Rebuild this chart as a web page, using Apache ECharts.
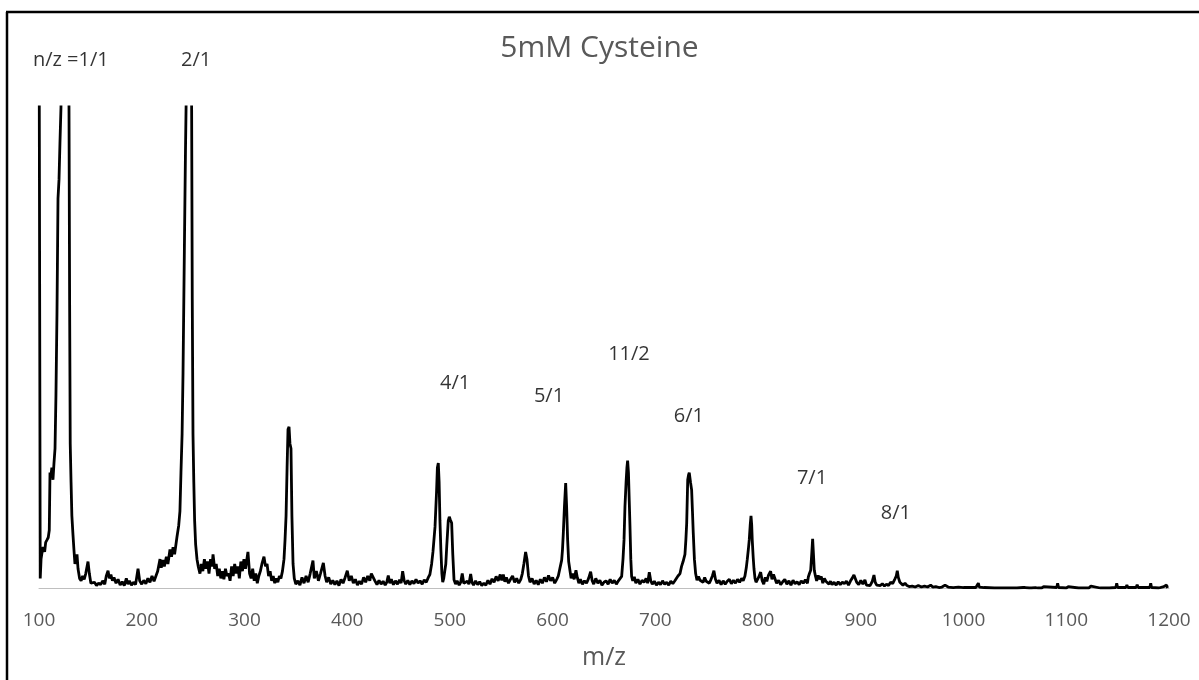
<!DOCTYPE html>
<html>
<head>
<meta charset="utf-8">
<script src="https://cdn.jsdelivr.net/npm/echarts@6/dist/echarts.min.js"></script>
<style>
html,body{margin:0;padding:0;background:#fff;}
#chart{width:1199px;height:680px;}
</style>
</head>
<body>
<div id="chart"></div>
<script>
// ---- Data ----
const chartTitle = '5mM Cysteine';
const xAxisName = 'm/z';
const xMin = 100, xMax = 1200, xStep = 100;
const yMin = 0, yMax = 100; // relative intensity; peaks above 100 are cut by the plot top

// annotation labels: text, m/z position, intensity position
const annotationNames = ['n/z =1/1', '2/1', '4/1', '5/1', '11/2', '6/1', '7/1', '8/1'];
const annotationMz    = [131, 253, 505, 596.5, 674.3, 732.7, 852.5, 934.2];
const annotationInt   = [109.8, 109.8, 42.6, 39.9, 48.6, 35.8, 22.9, 15.6];

// spectrum: [m/z, intensity]
const spectrumPeak1 = [
[100,130],[100.8,130],[101.2,2],[102,6],[102.9,7.3],[104,8.5],[105.5,7.5],[106.5,9.5],[107.8,10],[109,10.5],
[110,12],[110.7,24],[111.5,23],[112.5,25],[113.6,22.5],[114.6,26],[115.6,29],[116.5,40],[117.5,57],[118.5,81],
[119.5,85],[120.4,92.5],[121.4,100],[123,150],[125.5,200],[128,150],[129.2,100],[129.8,60],[130.4,30],[131.2,22],
[132,15],[133.1,11],[134,8],[135,5],[136,6],[137,7],[138,4],[139.5,2],[141,1.5],[142.5,2.5],
[144,1.8],[145.5,3],[147.7,5.5],[149,3],[150.5,1],[152,0.6],[154,1.2],[156,0.5],[158,1],[160,0.7],
[162,1.5],[164,0.8],[165.5,2.5],[167.2,3.6],[168.5,2],[170,2.8],[171.5,1.5],[173,2.2],[175,1],[177,1.8],
[179,0.6],[181,1.3],[183,0.5],[185,2],[186.5,0.8],[188,1.5],[190,0.6],[192,1.2],[194,0.7],[196.4,4],
[198,1.5],[200,0.8],[202,1.6],[204,0.9],[206,2],[208,1.2],[210,2.5],[212,1.4],[214,2.6]
];
const spectrumPeak2 = [
[215.5,3.5],[217.8,6],[219,4.2],[220.5,5.8],[222,4.5],[224,6.5],[225.5,5],[227.5,8],[229,6.5],[230.5,8.5],
[232,7],[234.3,10.6],[236,13],[237.2,16],[238.2,24],[239.3,32],[240.2,44.7],[241.5,70],[242.6,91],[243.5,105],
[246,160],[248.5,105],[249.2,60],[249.9,32],[250.7,22],[251.5,14],[252.5,9],[253.8,6],[255,4.5],[256.7,3],
[258,5],[259.5,3.5],[261,6],[262.5,4],[264,5.5],[265.5,3],[267,6],[268.5,4.5],[269.4,7],[271,4],
[272.5,5],[274,2.5],[275.5,4],[277,2],[278.5,3.5],[280,1.8],[281.5,4],[283,2.5],[284.5,3],[286,1.5],
[287.5,4.5],[289,2.5],[290.5,5],[292,3],[293.5,4.5],[295,2],[296.5,5.5],[298,3.5],[299.5,6],[301,4],
[303.4,7.5],[305,3],[306.5,2],[308,4],[309.5,1.5],[311,3],[312.5,1],[314,2.5],[315.5,3.5],[317,5],
[319,6.5],[320.5,4.5],[322,5],[323.5,2.5],[325,3.5],[326.5,1.5],[328,2.5],[329.5,1],[331,2],[332.5,1.2],
[334,2.5],[335.5,2],[337,3.5],[338.5,6],[339.5,10],[340.5,15],[341.5,25],[342.4,33],[343.4,33.5],[344.3,30],
[345.3,29],[346.2,15],[347.3,5],[348.5,2],[350,0.8],[352,1.5],[354,0.6],[356,2.2],[358,1],[360,2.5],
[362,1.2],[364,3],[366.7,5.7],[368,2],[370,3.5],[372,1.5],[374,3],[376.8,5.2],[378.5,2.5],[380,1.2],
[382,2.2],[384,0.8],[386,1.6],[388,0.7],[390,1.5],[392,0.5],[394,1.8],[396,1],[398,2.2],[400.1,3.6],
[402,1.5],[404,2.5],[406,1],[408,1.8],[410,0.6],[412,1.4],[414,0.8],[416,2.2],[418,1.2],[420,2.5],
[422,1.5],[423.5,3],[425.4,3.2],[427,1.5],[429,0.7],[431,1.6],[433,0.8],[435,1.4],[437,0.6],[438.5,1.2],
[440,2.6],[441.5,1],[443,1.8],[445,0.7],[447,1.5],[449,0.8],[451,1.7],[452.5,1],[454,3.5],[455.5,1.5],
[457,0.8],[459,1.6],[461,0.7],[463,1.5],[465,0.9],[467,1.8],[469,1],[471,1.5],[473,0.8],[475,1.7],
[477,1.2],[479,2.2]
];
const spectrumPeak4to6 = [
[480.5,2.8],[482.2,5],[483.5,7.5],[485.5,12.7],[487,20],[487.8,25],[488.7,26],[489.5,22],[490.3,14],[491.2,8],
[492.2,3],[493,1.2],[494,2],[495,3.5],[496,5],[497,9],[498.4,14],[499.4,14.8],[500.4,14.2],[501.7,13.5],
[502.8,7],[504,1.7],[505.5,0.8],[507,1.5],[509,0.6],[510.5,1.2],[512,3],[513.5,1],[515,0.6],[517,1.4],
[518.5,0.8],[520.2,2.9],[521.5,1.2],[523,0.6],[525,1.5],[527,0.7],[529,1.3],[531,0.5],[533,1],[535,0.6],
[537,1.6],[539,0.8],[541,1.9],[543,1.2],[545,2.4],[547,1.5],[549,2.8],[550.5,1.6],[552,2.8],[553.5,1.3],
[555,2.2],[557,1],[559,1.8],[561,2.5],[563,1.2],[565,2],[567,1],[569,1.8],[570.5,3],[572,5],
[573.7,7.5],[575,6],[576.5,2.5],[578,1.2],[580,2],[582,0.8],[584,1.6],[586,0.7],[588,1.8],[590,1],
[592,2.2],[594,1.3],[596,2.6],[598,1.5],[600,2.2],[602,1],[604,1.8],[605.5,2.5],[607,4],[608.8,5.8],
[609.6,8],[610.4,11.4],[611.5,17],[612.7,21.8],[613.6,17],[614.6,10],[615.6,5.5],[616.9,3.6],[618,2],[619.5,3],
[621,1.8],[622.7,3.7],[624,2.2],[625.5,1],[627,1.8],[629,0.8],[631,1.5],[633,1],[635,2],[637,3.4],
[638.5,1.5],[640,0.8],[642,2],[644,1],[646,1.6],[648,0.6],[650,1.2],[652,1.5],[654,0.8],[656,1.8],
[658,1],[660,1.6],[662,0.8],[664,1.5],[665.5,1.8],[667.2,2.4],[668.5,6],[669.5,10],[670.4,16.9],[671.5,22],
[672.3,25],[673,26.5],[673.8,24],[674.6,18],[675.3,12.7],[676.1,6],[676.9,2.4],[678,1.5],[679.5,2.3],[681,1],
[683,1.8],[685,0.8],[687,1.6],[689,1.2],[691,2],[692.5,1],[694.1,3.3],[695.5,1.5],[697,0.8],[699,1.4],
[701,0.6],[703,1.2],[705,0.7],[707,1.5],[709,0.8],[711,1.2],[713,0.6],[715,1.4],[717,0.9],[719,1.5],
[720.5,1.8],[722,2.5],[724,3],[725.5,4.5],[727,5.5],[728.8,7],[729.7,10],[730.5,13.5],[731.5,22.5],[732.3,23.5],
[733,24],[734.2,22],[735.3,20.4],[736.1,16],[736.9,11.4],[738,6],[739.2,3],[740.5,1.6],[742,2.4],[743.5,1.6]
];
const spectrumPeak7to8 = [
[745,2],[746.5,1.2],[748,2.2],[749.5,1.4],[751,1.8],[752.5,1],[754,1.7],[755.5,2.5],[757,3.6],[758.5,1.8],
[760,1],[762,1.6],[764,0.7],[766,1.5],[768,0.8],[770,1.4],[772,1.8],[774,0.9],[776,1.6],[778,1],
[780,1.8],[782,1.2],[784,2],[785.5,1.5],[787.2,2.5],[788.5,4.2],[789.5,6],[790.5,8],[791.4,10],[792.3,13],
[793.1,15],[793.8,13],[794.3,10],[795.2,6.5],[796,4],[797,2],[798,1.2],[799,1.6],[800.5,2.2],[802.5,3.3],
[804,1.5],[805.5,0.8],[807,2.2],[808.5,1.4],[810,2.6],[812.2,3.5],[813.5,1.8],[815,2.8],[816.5,2.5],[818,1],
[820,1.6],[822,0.7],[824,1.3],[826,1.8],[828,0.8],[830,1.5],[832,0.6],[834,1.6],[836,0.9],[838,1.3],
[840,0.7],[842,1.5],[844,1],[846,1.7],[848,1],[848.9,2.3],[850,3],[851.2,3.7],[852.2,7],[853.1,10.2],
[853.9,7],[854.7,3.7],[855.8,2.5],[857,1.5],[858.5,2.6],[860,1.8],[861.5,2.4],[863,1],[864.5,2],[866,1.4],
[867.5,1.8],[869,0.8],[870.5,1.4],[872,0.7],[874,1.2],[876,0.6],[878,1.3],[880,0.7],[882,1.2],[884,0.9],
[886,1.4],[888,0.6],[890,1.5],[891.5,2],[893.3,2.7],[894.5,2.4],[896,1.2],[898,0.7],[900,1.6],[902,0.8],
[904,1.7],[905.5,0.6],[907,1],[909,0.5],[911,1.3],[912.8,2.7],[914,1.2],[915.5,0.6],[917,1],[919,0.5],
[921,0.9],[923,0.4],[925,0.8],[927,0.5],[929,1.2],[931,0.9],[933,1.8],[934.5,2.5],[935.5,3.6],[936.5,2.2],
[938,1.2],[939.5,1.6],[941,0.6],[943,1],[945,0.5],[947,0.3],[950,0.4],[953,0.2],[956,0.5],[959,0.2]
];
const spectrumTail = [
[962,0.4],[965,0.2],[968,0.6],[970,0.2],[973,0.3],[976,0.1],[979,0.2],[982,0.6],[985,0.2],[990,0.1],
[995,0.2],[1000,0.1],[1005,0.1],[1012,0.1],[1013.5,0.2],[1014.4,1],[1015.3,0.2],[1020,0.1],[1030,0],[1040,0],
[1050,0],[1051,0.3],[1052,0],[1058,0.1],[1059,0.4],[1060,0.1],[1064,0],[1065,0.4],[1066,0],[1070,0.1],
[1071,0.3],[1072,0],[1076,0],[1078,0.3],[1079,0],[1090.7,0.1],[1091.6,1],[1092.5,0.1],[1100,0],[1102,0.3],
[1103,0],[1112,0],[1113,0.3],[1114,0],[1122,0],[1124,0.4],[1125,0],[1133,0],[1134,0.3],[1135,0],
[1140,0],[1141,0.3],[1142,0],[1148.2,0.1],[1149.1,1],[1150,0.1],[1158,0.1],[1159,0.6],[1160,0.1],[1168,0.1],
[1169,0.7],[1170,0.1],[1174,0.1],[1175,0.5],[1176,0.1],[1181.3,0.1],[1182.2,1],[1183,0.1],[1190,0],[1195,0.3],
[1197.7,0.6],[1198.5,0]
];

// ---- Build chart ----
const spectrum = [].concat(spectrumPeak1, spectrumPeak2, spectrumPeak4to6, spectrumPeak7to8, spectrumTail);
const annotations = annotationNames.map((n, i) => [annotationMz[i], annotationInt[i]]);

const FONT = '"Open Sans", "Noto Sans", sans-serif';
const chart = echarts.init(document.getElementById('chart'), null, {renderer: 'canvas'});
chart.setOption({
  backgroundColor: '#ffffff',
  animation: false,
  title: {
    text: chartTitle,
    left: 'center',
    top: 28,
    textStyle: {fontFamily: FONT, fontSize: 30, fontWeight: 'normal', color: '#595959'}
  },
  grid: {left: 39, right: 30, top: 107, bottom: 92, containLabel: false},
  xAxis: {
    type: 'value',
    min: xMin, max: xMax, interval: xStep,
    name: xAxisName,
    nameLocation: 'middle',
    nameGap: 57,
    nameTextStyle: {fontFamily: FONT, fontSize: 25, color: '#595959'},
    axisLine: {show: true, onZero: false, lineStyle: {color: '#BFBFBF', width: 1}},
    axisTick: {show: false},
    splitLine: {show: false},
    axisLabel: {fontFamily: FONT, fontSize: 19, color: '#595959', margin: 23, formatter: v => String(v)}
  },
  yAxis: {
    type: 'value', min: yMin, max: yMax, show: false,
    splitLine: {show: false}
  },
  series: [
    {
      type: 'line',
      data: spectrum,
      showSymbol: false,
      symbol: 'none',
      clip: true,
      lineStyle: {color: '#000000', width: 2.8},
      silent: true,
      z: 3
    },
    {
      type: 'scatter',
      data: annotations,
      symbolSize: 0,
      clip: false,
      silent: true,
      label: {
        show: true,
        position: 'inside',
        formatter: p => annotationNames[p.dataIndex],
        fontFamily: FONT,
        fontSize: 20,
        color: '#000000',
        textBorderWidth: 0
      },
      z: 4
    }
  ],
  graphic: [
    {type: 'line', shape: {x1: 7, y1: 12, x2: 7, y2: 680}, style: {stroke: '#000', lineWidth: 2.5}, silent: true},
    {type: 'line', shape: {x1: 6, y1: 12, x2: 1199, y2: 12}, style: {stroke: '#000', lineWidth: 2.5}, silent: true}
  ]
});
</script>
</body>
</html>
